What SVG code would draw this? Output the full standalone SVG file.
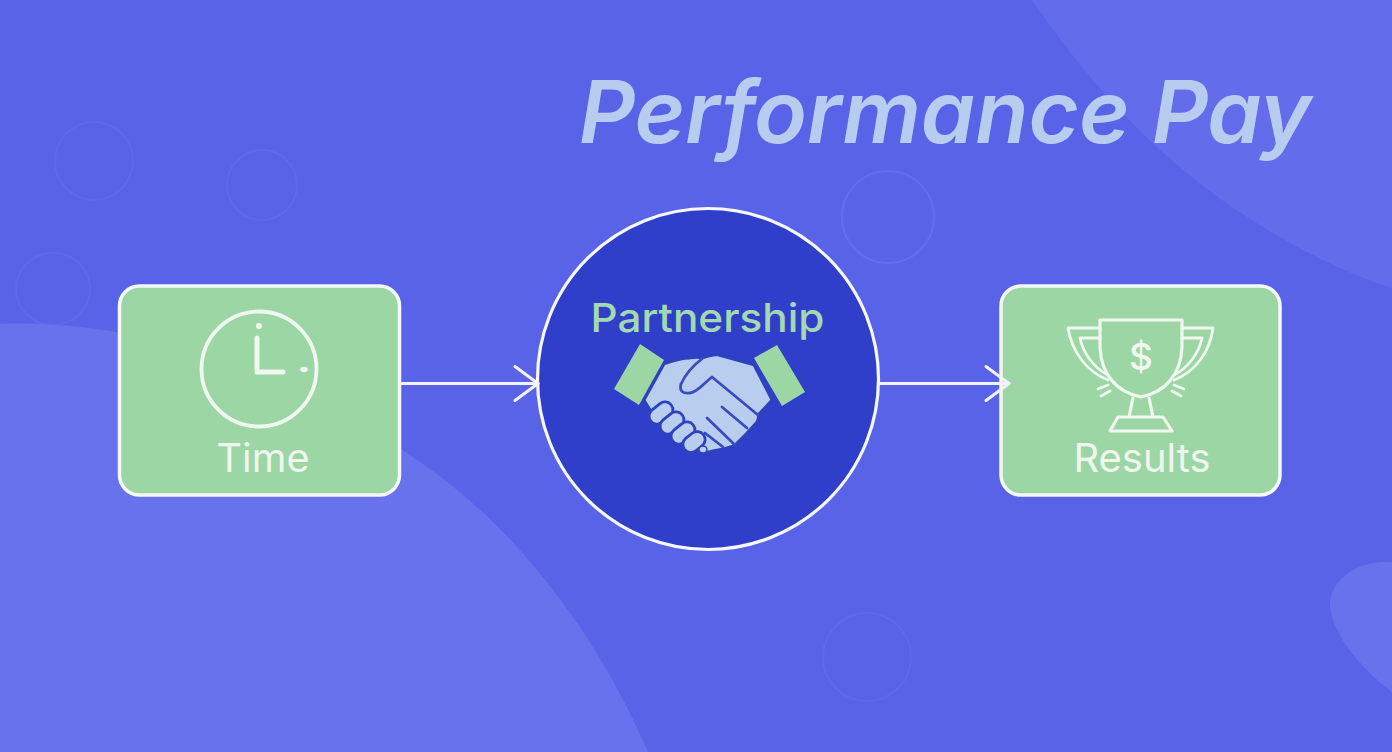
<svg xmlns="http://www.w3.org/2000/svg" width="1392" height="752" viewBox="0 0 1392 752">
<style>
.ring{fill:none;stroke:#6670ec;stroke-width:2;opacity:.45}
.box{fill:#9dd6a5;stroke:#f4f8f6;stroke-width:3.500}
.ico{fill:none;stroke:#f0f7f0;stroke-linecap:round;stroke-linejoin:round}
.lbl{font-family:"Inter","Noto Sans","Liberation Sans",sans-serif;font-size:39px;font-weight:400;fill:#eef6ee;text-anchor:middle}
.conn{fill:none;stroke:#f1f2fc;stroke-width:2.800;stroke-linecap:round;stroke-linejoin:round}
.cuff{fill:#9dd6a5;stroke:none}
.hand{fill:#b9cdee;stroke:#2e42bb;stroke-width:2.800;stroke-linejoin:round;stroke-linecap:round}
.line{fill:none;stroke:#3a4bbd;stroke-width:2.800;stroke-linejoin:round;stroke-linecap:round}
</style>
<defs>
<marker id="ah" markerUnits="userSpaceOnUse" markerWidth="30" markerHeight="44" refX="25" refY="20" orient="auto" viewBox="0 0 30 40">
<path d="M2 3L25 20L2 37" fill="none" stroke="#f1f2fc" stroke-width="3" stroke-linecap="round" stroke-linejoin="round"/>
</marker>
</defs>
<g id="background">
<rect width="1392" height="752" fill="#5963e8"/>
<path d="M0 324C150 318 300 380 420 462C520 530 600 640 648 752H0Z" fill="#6872ec"/>
<path d="M1032 0C1080 70 1140 140 1215 195C1270 235 1335 270 1392 288V0Z" fill="#636dec"/>
<path d="M1392 562C1362 560 1335 575 1330 600C1328 630 1360 668 1392 692Z" fill="#6872ec"/>
<circle class="ring" cx="94" cy="161" r="39"/>
<circle class="ring" cx="262" cy="185" r="35"/>
<ellipse class="ring" cx="53" cy="289" rx="37" ry="36"/>
<circle class="ring" cx="888" cy="217" r="46" style="opacity:.85"/>
<circle class="ring" cx="867" cy="657" r="44"/>
</g>
<text id="title" x="579" y="143" font-family="'Inter','Noto Sans','Liberation Sans',sans-serif" font-size="87" font-style="italic" font-weight="600" fill="#b7cdf0">Performance Pay</text>
<g id="node-time">
<rect class="box" x="119.500" y="286" width="280" height="209" rx="20"/>
<circle class="ico" cx="259" cy="369" r="57.500" stroke-width="3.800"/>
<circle cx="259" cy="326" r="3" fill="#f0f7f0"/>
<path class="ico" stroke-width="5" d="M257 338V372H283"/>
<ellipse cx="304" cy="369.500" rx="3.800" ry="2.800" fill="#f0f7f0"/>
<text class="lbl" x="263" y="472" textLength="93" lengthAdjust="spacingAndGlyphs">Time</text>
</g>
<g id="node-partnership">
<circle cx="708" cy="379" r="170.500" fill="#2f3fca" stroke="#f6f8fd" stroke-width="3.200"/>
<text x="707.500" y="332" font-family="'Inter','Noto Sans','Liberation Sans',sans-serif" font-size="40" font-weight="500" fill="#a3d8b0" text-anchor="middle" textLength="234" lengthAdjust="spacingAndGlyphs">Partnership</text>
<path class="cuff" d="M640 344L664 360L639 405L614 389Z"/>
<path class="cuff" d="M777 345L805 392L782 406L754 358Z"/>
<path class="hand" d="M664 364C672 361 682 358 690 358C695 357 699 357 702 358C708 356 713 354 718 355L754 365L772 400L758 415C759 418 758 420 757 422L747 433L735 445C728 449 720 449 708 452C704 454 702 454 700 453L652 413L644 400Z"/>
<path class="line" d="M703 358C695 364 686 373 681 384C679 391 683 394 690 393C698 392 704 383 712 377L758 415M722 407L747 428M707 418L735 445M705 433L723 447"/>
<rect class="hand" x="-13" y="-8" width="26" height="16" rx="8" transform="translate(661 413) rotate(-38)"/>
<rect class="hand" x="-13" y="-8" width="26" height="16" rx="8" transform="translate(672 423) rotate(-38)"/>
<rect class="hand" x="-13" y="-8" width="26" height="16" rx="8" transform="translate(683 433) rotate(-38)"/>
<rect class="hand" x="-12" y="-8" width="24" height="16" rx="8" transform="translate(694 442) rotate(-38)"/>
<ellipse cx="703" cy="449.500" rx="4" ry="3.500" fill="#b9cdee" stroke="#2e42bb" stroke-width="1.500"/>
</g>
<g id="node-results">
<rect class="box" x="1001" y="286" width="279" height="209" rx="20"/>
<path class="ico" stroke-width="3.200" d="M1100 320H1182V347C1181 375 1165 392 1141 397C1117 392 1101 375 1100 347Z"/>
<path class="ico" stroke-width="2.800" d="M1100 328H1068C1072 352 1087 372 1108 380M1100 338H1080C1083 353 1094 368 1108 375"/>
<path class="ico" stroke-width="2.800" d="M1182 328H1213C1210 352 1195 372 1174 380M1182 338H1202C1199 353 1188 368 1174 375"/>
<path class="ico" stroke-width="2.800" d="M1108 385L1098 389M1110 391L1101 396M1174 385L1184 389M1172 391L1181 396"/>
<path class="ico" stroke-width="3.200" d="M1133 398L1129 417H1153L1149 398M1118 417H1163L1172 431H1110Z"/>
<text x="1141" y="370" font-family="'Inter','Noto Sans','Liberation Sans',sans-serif" font-size="37" font-weight="500" fill="#f0f7f0" text-anchor="middle">$</text>
<text class="lbl" x="1142" y="472" textLength="137" lengthAdjust="spacingAndGlyphs">Results</text>
</g>
<g id="connectors">
<path class="conn" d="M401 383.500H538" marker-end="url(#ah)"/>
<path class="conn" d="M879 383.500H1009" marker-end="url(#ah)"/>
</g>
</svg>
